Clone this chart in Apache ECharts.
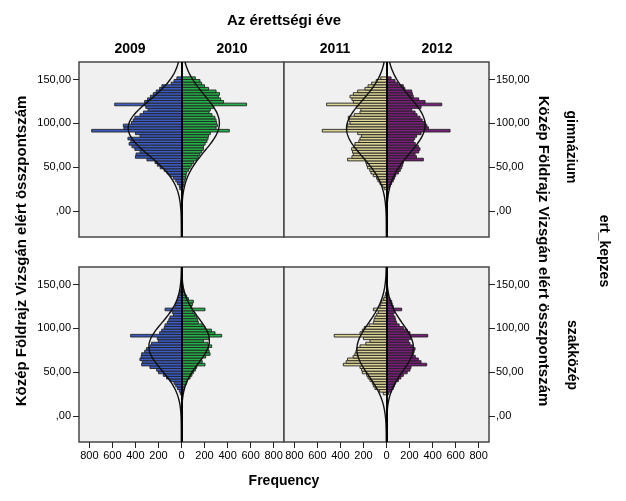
<!DOCTYPE html>
<html><head><meta charset="utf-8">
<script src="https://cdn.jsdelivr.net/npm/echarts@6/dist/echarts.min.js"></script>
<style>html,body{margin:0;padding:0;background:#fff}#c{width:626px;height:501px}</style>
</head><body><div id="c"></div>
<script>
// ---- data ----
var years = ['2009', '2010', '2011', '2012'];
var rowLabels = ['gimnázium', 'szakközép'];
var binLower = [24,27,30,33,36,39,42,45,48,51,54,57,60,63,66,69,72,75,78,81,84,87,90,93,96,99,102,105,108,111,114,117,120,123,126,129,132,135,138,141,144,147,150];
var binUpper = [27,30,33,36,39,42,45,48,51,54,57,60,63,66,69,72,75,78,81,84,87,90,93,96,99,102,105,108,111,114,117,120,123,126,129,132,135,138,141,144,147,150,153];

var gim2009 = [15,20,36,50,70,100,125,150,185,210,230,300,400,395,360,405,430,455,440,465,360,400,780,500,505,435,420,405,360,330,290,310,580,320,295,270,245,220,190,170,90,65,40];
var gim2010 = [10,16,22,30,35,40,45,60,75,90,105,130,145,160,175,190,190,205,220,230,235,250,415,300,312,305,300,290,265,240,250,280,565,365,340,320,330,300,235,200,175,160,120];
var gim2011 = [20,33,57,75,86,115,135,145,165,172,180,338,300,288,295,303,285,274,240,230,216,250,558,346,340,317,325,332,280,230,222,260,520,288,300,317,288,250,187,160,129,90,50];
var gim2012 = [15,30,45,59,70,80,103,120,132,140,146,320,260,248,280,291,277,250,233,245,262,300,552,364,350,335,310,291,265,248,219,300,480,335,280,233,225,219,160,146,100,74,40];
var szak2009 = [10,19,36,50,65,100,130,158,200,216,274,346,340,361,350,346,320,303,274,260,201,210,442,190,172,150,143,123,110,100,71,80,143,57,50,42,35,28,15,10,5,0,0];
var szak2010 = [8,16,25,30,45,50,74,90,103,120,132,204,180,175,210,248,240,233,262,230,190,240,349,291,260,204,180,146,140,132,117,100,204,88,95,103,60,45,30,20,10,5,0];
var szak2011 = [28,60,100,115,123,143,160,172,210,216,230,375,350,338,290,274,265,259,230,180,143,200,454,230,210,193,150,114,108,100,85,71,114,57,50,42,25,13,8,0,0,0,0];
var szak2012 = [20,45,59,70,80,103,125,146,180,204,213,349,300,277,250,233,240,248,225,204,190,210,358,204,180,146,110,88,80,74,59,70,132,59,50,45,30,15,8,0,0,0,0];

var curveY = [-30,-25,-20,-15,-10,-5,0,5,10,15,20,25,30,35,40,45,50,55,60,65,70,75,80,85,90,95,100,105,110,115,120,125,130,135,140,145,150,155,160,165,170];
var curveGim2009 = [0.2,0.3,0.6,1.1,1.9,3.2,5.1,8.2,12.7,19.2,28.2,40.6,57,77.8,103.6,134.7,170.7,211,254,298.6,342,382,416,442,458,463,456,438,410,375,334,290,245,203,163,128,98,73,53.3,37.9,26.2];
var curveGim2010 = [0.1,0.2,0.3,0.5,0.9,1.5,2.5,4,6.3,9.7,14.5,21.1,30.1,41.8,56.7,75.1,97.1,122.4,150.7,181,212,242.5,270.6,294.8,313.3,325,329,325,313.3,294.8,270.6,242.5,212,181,150.7,122.4,97.1,75.1,56.7,41.8,30.1];
var curveGim2011 = [0.2,0.3,0.6,1,1.8,2.9,4.6,7.3,11.1,16.5,23.9,33.9,47,63.4,83.6,107.5,134.8,165.1,197.3,230.2,261.9,290.9,315.3,333.5,344.3,347,341,327.1,306.2,279.8,249.5,217,184.3,152.7,123.5,97.4,75.1,56.4,41.4,29.6,20.7];
var curveGim2012 = [0.1,0.2,0.4,0.7,1.1,1.9,3.1,4.9,7.6,11.6,17.2,24.8,35,48.2,64.8,85,108.8,135.8,165.5,196.8,228.5,258.8,286,308.5,324.7,333.5,334.3,327.1,312.3,290.9,264.5,234.7,203.2,171.7,141.6,113.9,89.5,68.6,51.3,37.4,26.7];
var curveSzak2009 = [0.1,0.2,0.3,0.7,1.2,2.2,3.9,6.6,10.8,17,26,38.3,54.5,75,99.7,128.1,159,190.7,220.9,247.4,267.7,279.9,283,276.1,260.5,237.4,209.1,178,146.4,116.3,89.3,66.3,47.5,32.9,22,14.3,8.9,5.4,3.1,1.8,1];
var curveSzak2010 = [0,0,0.1,0.1,0.3,0.5,1,1.9,3.4,5.8,9.7,15.4,23.8,35.3,50.6,69.8,92.8,118.9,146.8,174.7,200.3,221.3,235.6,242,239.1,227.9,209.3,185.3,158,129.9,102.9,78.6,57.8,41,28,18.4,11.7,7.2,4.2,2.4,1.3];
var curveSzak2011 = [0.5,0.9,1.5,2.6,4.2,6.7,10.4,15.6,22.9,32.5,45,60.6,79.3,101,125.1,150.7,176.5,201.2,222.9,240.3,251.9,257,254.7,245.7,230.5,210.3,186.6,161.1,135.2,110.4,87.7,67.7,50.9,37.2,26.4,18.2,12.3,8,5.1,3.2,1.9];
var curveSzak2012 = [0.1,0.2,0.3,0.6,1.2,2.1,3.6,6,9.8,15.3,23.2,33.9,48,65.6,86.6,110.4,136.1,162.1,186.6,207.5,223,231.6,232.4,225.3,211.1,191.1,167.2,141.3,115.4,91.1,69.5,51.2,36.5,25.1,16.7,10.7,6.7,4,2.3,1.3,0.7];

var xTickValues = [-800,-600,-400,-200,0,200,400,600,800];
var xTickLabels = ['800','600','400','200','0','200','400','600','800'];
var yTickValues = [0,50,100,150];
var yTickLabels = [',00','50,00','100,00','150,00'];

// ---- chart ----
var FONT = '"Liberation Sans", Arial, sans-serif';
var colors = {'2009': '#3a5cc4', '2010': '#22b247', '2011': '#ddd596', '2012': '#7a1d7c'};

var panels = [
  {grid: {left: 79, top: 62, width: 205, height: 175}, left: gim2009, right: gim2010, cl: curveGim2009, cr: curveGim2010, ly: '2009', ry: '2010', yPos: 'left', bottom: false},
  {grid: {left: 284, top: 62, width: 205, height: 175}, left: gim2011, right: gim2012, cl: curveGim2011, cr: curveGim2012, ly: '2011', ry: '2012', yPos: 'right', bottom: false},
  {grid: {left: 79, top: 267, width: 205, height: 175}, left: szak2009, right: szak2010, cl: curveSzak2009, cr: curveSzak2010, ly: '2009', ry: '2010', yPos: 'left', bottom: true},
  {grid: {left: 284, top: 267, width: 205, height: 175}, left: szak2011, right: szak2012, cl: curveSzak2011, cr: curveSzak2012, ly: '2011', ry: '2012', yPos: 'right', bottom: true}
];

function barData(counts, sign) {
  var d = [];
  for (var i = 0; i < counts.length; i++) {
    if (counts[i] > 0) d.push([sign * counts[i], binLower[i], binUpper[i]]);
  }
  return d;
}
function curveData(vals, sign) {
  var d = [];
  for (var i = 0; i < vals.length; i++) d.push([sign * vals[i], curveY[i]]);
  return d;
}
function renderBar(params, api) {
  var v = api.value(0), lo = api.value(1), hi = api.value(2);
  var p0 = api.coord([0, hi]);
  var p1 = api.coord([v, lo]);
  return {
    type: 'rect',
    shape: {x: Math.min(p0[0], p1[0]), y: p0[1], width: Math.abs(p1[0] - p0[0]), height: p1[1] - p0[1]},
    style: {fill: api.visual('color'), stroke: '#222', lineWidth: 0.9}
  };
}

var option = {
  animation: false,
  backgroundColor: '#ffffff',
  textStyle: {fontFamily: FONT},
  grid: [], xAxis: [], yAxis: [], series: [],
  graphic: []
};

panels.forEach(function (p, gi) {
  option.grid.push(Object.assign({show: true, backgroundColor: '#f0f0f0', borderColor: '#474747', borderWidth: 1.5}, p.grid));
  option.xAxis.push({
    type: 'value', gridIndex: gi, min: -890, max: 890, position: 'bottom',
    splitLine: {show: false}, axisLine: {show: false, onZero: false},
    axisTick: {show: p.bottom, customValues: xTickValues, length: 6, lineStyle: {color: '#222', width: 1}},
    axisLabel: {show: p.bottom, customValues: xTickValues, margin: 8, color: '#000', fontSize: 11, fontFamily: FONT,
      formatter: function (v) { var k = xTickValues.indexOf(v); return k >= 0 ? xTickLabels[k] : ''; }}
  });
  option.yAxis.push({
    type: 'value', gridIndex: gi, min: -30, max: 170, position: p.yPos,
    splitLine: {show: false}, axisLine: {show: false, onZero: false},
    axisTick: {show: true, customValues: yTickValues, length: 6, lineStyle: {color: '#222', width: 1}},
    axisLabel: {show: true, customValues: yTickValues, margin: p.yPos === 'left' ? 8 : 7, color: '#000', fontSize: 11, fontFamily: FONT,
      formatter: function (v) { var k = yTickValues.indexOf(v); return k >= 0 ? yTickLabels[k] : ''; }}
  });
  option.series.push({
    type: 'custom', xAxisIndex: gi, yAxisIndex: gi, renderItem: renderBar,
    encode: {x: 0, y: [1, 2]}, itemStyle: {color: colors[p.ly]}, data: barData(p.left, -1), z: 2
  });
  option.series.push({
    type: 'custom', xAxisIndex: gi, yAxisIndex: gi, renderItem: renderBar,
    encode: {x: 0, y: [1, 2]}, itemStyle: {color: colors[p.ry]}, data: barData(p.right, 1), z: 2
  });
  option.series.push({
    type: 'line', xAxisIndex: gi, yAxisIndex: gi, smooth: true, showSymbol: false, symbol: 'none',
    lineStyle: {color: '#111', width: 1.4}, data: curveData(p.cl, -1), z: 3, silent: true
  });
  option.series.push({
    type: 'line', xAxisIndex: gi, yAxisIndex: gi, smooth: true, showSymbol: false, symbol: 'none',
    lineStyle: {color: '#111', width: 1.4}, data: curveData(p.cr, 1), z: 3, silent: true,
    markLine: {silent: true, symbol: 'none', label: {show: false}, animation: false,
      lineStyle: {color: '#000', width: 2, type: 'solid'}, data: [{xAxis: 0}]}
  });
});

function txt(x, y, s, rot, size) {
  return {type: 'text', x: x, y: y, rotation: rot || 0, z: 10,
    style: {text: s, font: 'bold ' + (size || 14) + 'px ' + FONT, fill: '#000', textAlign: 'center', textVerticalAlign: 'middle'}};
}
option.graphic.push(txt(284, 21, 'Az érettségi éve', 0, 15));
option.graphic.push(txt(130, 49, years[0]));
option.graphic.push(txt(232, 49, years[1]));
option.graphic.push(txt(335, 49, years[2]));
option.graphic.push(txt(437, 49, years[3]));
option.graphic.push(txt(284, 481, 'Frequency'));
option.graphic.push(txt(22, 251, 'Közép Földrajz Vizsgán elért összpontszám', Math.PI / 2, 15));
option.graphic.push(txt(543, 251, 'Közép Földrajz Vizsgán elért összpontszám', -Math.PI / 2, 15));
option.graphic.push(txt(571, 147, rowLabels[0], -Math.PI / 2));
option.graphic.push(txt(572, 355, rowLabels[1], -Math.PI / 2));
option.graphic.push(txt(604, 251, 'ert_kepzes', -Math.PI / 2));

var chart = echarts.init(document.getElementById('c'), null, {renderer: 'canvas'});
chart.setOption(option);
</script>
</body></html>
